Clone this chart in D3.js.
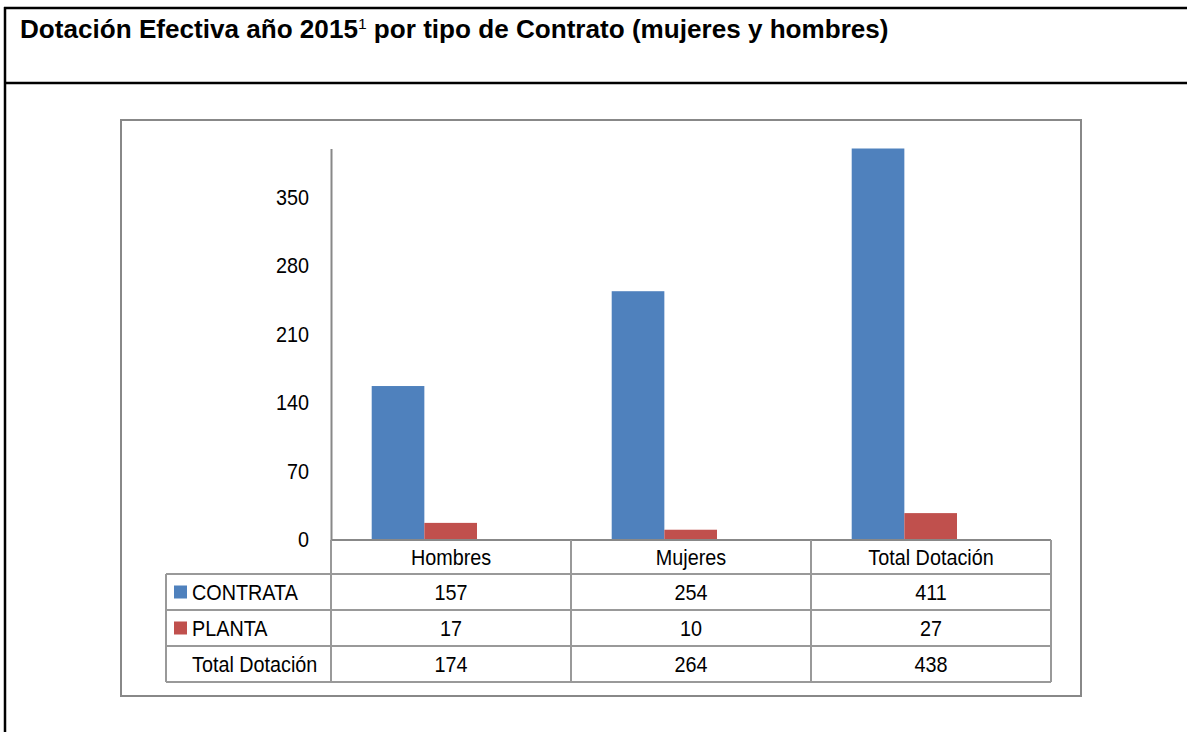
<!DOCTYPE html>
<html>
<head>
<meta charset="utf-8">
<script src="https://cdn.jsdelivr.net/npm/d3@7"></script>
<style>
  body { margin: 0; background: #fff; }
  svg text { font-family: "Liberation Sans Narrow", "Arial Narrow", "Liberation Sans", Arial, sans-serif; fill: #000; }
</style>
</head>
<body>
<div id="chart"></div>
<script>
// data
const categories = ["Hombres", "Mujeres", "Total Dotación"];
const series = ["CONTRATA", "PLANTA"];
const contrata = [157, 254, 411];
const planta = [17, 10, 27];
const totals = [174, 264, 438];
const yTicks = [0, 70, 140, 210, 280, 350];
const colors = ["#4F81BD", "#C0504D"];

// squeeze text horizontally (the original uses a narrow face)
function narrow(sel, sx) {
    sel.each(function () {
        const t = d3.select(this);
        const x0 = +t.attr("x") || 0, y0 = +t.attr("y") || 0;
        t.attr("x", 0).attr("y", 0)
         .attr("transform", `translate(${x0},${y0}) scale(${sx},1)`);
    });
}

document.addEventListener("DOMContentLoaded", function () {
    const W = 1187, H = 732;
    const svg = d3.select("#chart").append("svg")
        .attr("width", W)
        .attr("height", H);

    // outer document table lines (black)
    svg.append("line").attr("x1", 5).attr("x2", 5).attr("y1", 7).attr("y2", H).attr("stroke", "#000").attr("stroke-width", 2.5);
    svg.append("line").attr("x1", 4).attr("x2", W).attr("y1", 8).attr("y2", 8).attr("stroke", "#000").attr("stroke-width", 2.5);
    svg.append("line").attr("x1", 4).attr("x2", W).attr("y1", 83).attr("y2", 83).attr("stroke", "#000").attr("stroke-width", 2.5);

    // title
    const title = svg.append("text")
        .attr("x", 20).attr("y", 38)
        .style("font-size", "25px").style("font-weight", "bold");
    title.append("tspan").text("Dotación Efectiva año 2015");
    title.append("tspan").text("1").style("font-size", "15px").style("font-weight", "normal").attr("dy", -9);
    title.append("tspan").text(" por tipo de Contrato (mujeres y hombres)").attr("dy", 9);
    const tw = title.node().getComputedTextLength();
    narrow(title, 869 / tw);

    // chart frame
    svg.append("rect")
        .attr("x", 121).attr("y", 120).attr("width", 960).attr("height", 576)
        .attr("fill", "none").attr("stroke", "#888").attr("stroke-width", 2);

    const x = d3.scaleBand().domain(categories).range([331, 1051]);
    const xs = d3.scaleBand().domain(series).range([40.7, 146]);
    const y = d3.scaleLinear().domain([0, 400]).range([539.5, 148.5]);

    svg.append("defs").append("clipPath").attr("id", "plot")
        .append("rect").attr("x", 331).attr("y", y(400)).attr("width", 720).attr("height", y(0) - y(400));

    const rows = categories.map((c, i) => ({cat: c, vals: [contrata[i], planta[i]]}));
    const g = svg.append("g").attr("clip-path", "url(#plot)");
    g.selectAll("g.cat")
        .data(rows)
        .enter().append("g")
        .attr("transform", d => `translate(${x(d.cat)},0)`)
        .selectAll("rect")
        .data(d => d.vals.map((v, j) => ({s: series[j], v: v, j: j})))
        .enter().append("rect")
        .attr("x", d => xs(d.s))
        .attr("y", d => y(d.v))
        .attr("width", xs.bandwidth())
        .attr("height", d => y(0) - y(d.v))
        .attr("fill", d => colors[d.j]);

    const fs = "22px", sx = 0.9;

    // y axis
    const yAxis = svg.append("g")
        .attr("transform", "translate(331,0)")
        .call(d3.axisLeft(y).tickValues(yTicks).tickSize(0).tickPadding(22));
    yAxis.select(".domain").attr("stroke", "#888").attr("stroke-width", 2);
    yAxis.selectAll("text")
        .attr("font-family", null).attr("font-size", null)
        .style("font-size", fs)
        .style("font-family", "\"Liberation Sans Narrow\", \"Arial Narrow\", \"Liberation Sans\", Arial, sans-serif");
    yAxis.attr("font-family", null).attr("font-size", null);
    narrow(yAxis.selectAll("text"), sx);

    // data table
    const rowTop = [540, 574, 610, 646, 682];
    const left = 166;
    const lineCol = "#999";
    const tbl = svg.append("g");
    // horizontal lines
    tbl.append("line").attr("x1", 331).attr("x2", 1051).attr("y1", rowTop[0]).attr("y2", rowTop[0]).attr("stroke", "#888").attr("stroke-width", 2);
    rowTop.slice(1).forEach(yy => {
        tbl.append("line").attr("x1", left).attr("x2", 1051).attr("y1", yy).attr("y2", yy).attr("stroke", lineCol).attr("stroke-width", 2);
    });
    // vertical lines
    tbl.append("line").attr("x1", left).attr("x2", left).attr("y1", rowTop[1]).attr("y2", rowTop[4]).attr("stroke", lineCol).attr("stroke-width", 2);
    categories.forEach(c => {
        tbl.append("line").attr("x1", x(c)).attr("x2", x(c)).attr("y1", rowTop[0]).attr("y2", rowTop[4]).attr("stroke", lineCol).attr("stroke-width", 2);
    });
    tbl.append("line").attr("x1", 1051).attr("x2", 1051).attr("y1", rowTop[0]).attr("y2", rowTop[4]).attr("stroke", lineCol).attr("stroke-width", 2);

    const mid = i => (rowTop[i] + rowTop[i + 1]) / 2;
    // header
    tbl.selectAll("text.hdr").data(categories).enter().append("text")
        .attr("class", "hdr")
        .attr("x", d => x(d) + x.bandwidth() / 2).attr("y", mid(0))
        .attr("dy", "0.36em").attr("text-anchor", "middle")
        .style("font-size", fs).text(d => d);

    const tableRows = [
        {label: "CONTRATA", vals: contrata, color: colors[0]},
        {label: "PLANTA", vals: planta, color: colors[1]},
        {label: "Total Dotación", vals: totals, color: null}
    ];
    tableRows.forEach((r, i) => {
        const cy = mid(i + 1);
        if (r.color) {
            tbl.append("rect").attr("x", 174).attr("y", cy - 6.5).attr("width", 13).attr("height", 13).attr("fill", r.color);
        }
        tbl.append("text").attr("class", "cell").attr("x", 192).attr("y", cy).attr("dy", "0.36em")
            .style("font-size", fs).text(r.label);
        tbl.selectAll(null).data(r.vals).enter().append("text")
            .attr("class", "cell")
            .attr("x", (d, k) => x(categories[k]) + x.bandwidth() / 2)
            .attr("y", cy).attr("dy", "0.36em").attr("text-anchor", "middle")
            .style("font-size", fs).text(d => d);
    });
    narrow(tbl.selectAll("text"), sx);
});
</script>
</body>
</html>
